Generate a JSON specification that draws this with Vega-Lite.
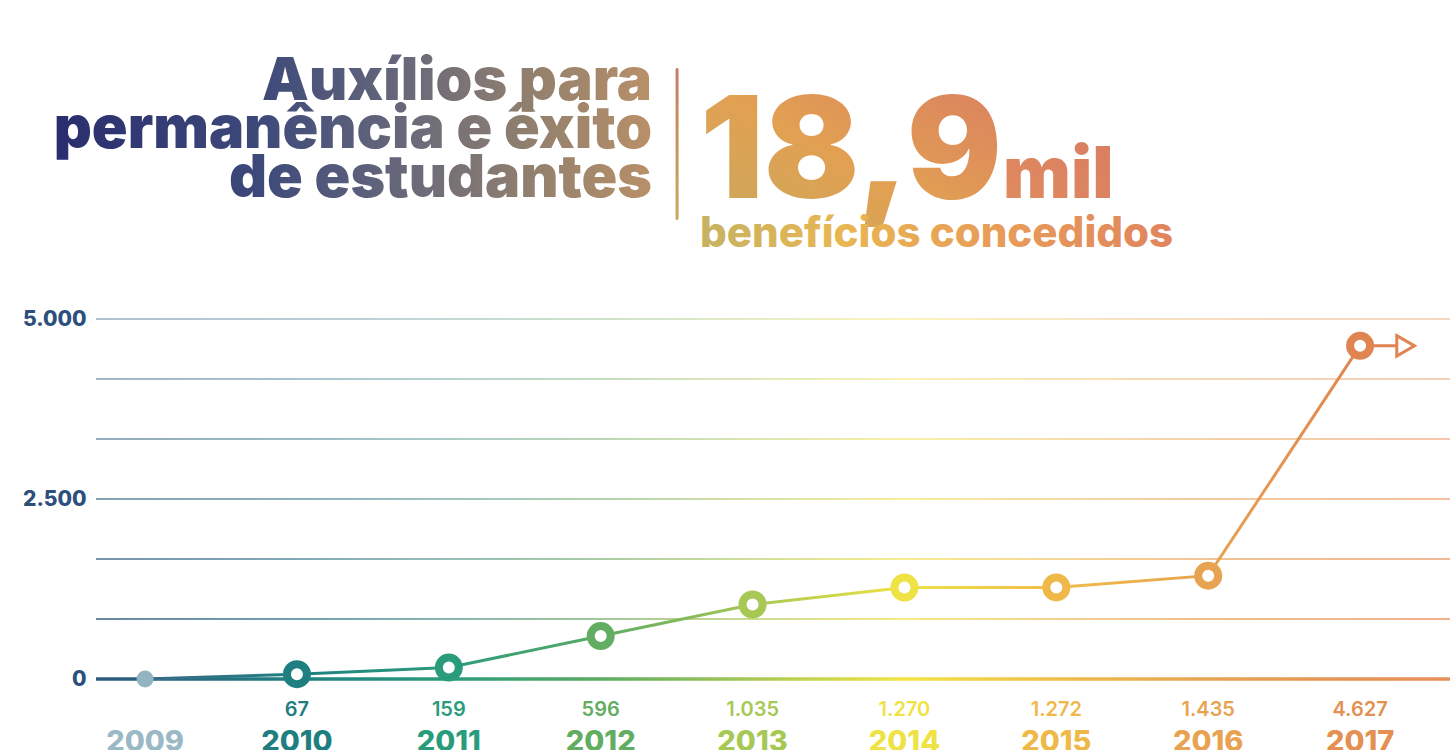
{
  "$schema": "https://vega.github.io/schema/vega-lite/v6.json",
  "width": 1354,
  "height": 360,
  "autosize": {"type": "none"},
  "padding": {"left": 96, "top": 319, "right": 0, "bottom": 71},
  "background": "white",
  "config": {
    "view": {"stroke": null},
    "font": "Inter",
    "scale": {"continuousPadding": 0},
    "locale": {"number": {"decimal": ",", "thousands": ".", "grouping": [3], "currency": ["R$", ""]}}
  },
  "datasets": {
    "years": [
      {"year": 2009, "value": 0},
      {"year": 2010, "value": 67},
      {"year": 2011, "value": 159},
      {"year": 2012, "value": 596},
      {"year": 2013, "value": 1035},
      {"year": 2014, "value": 1270},
      {"year": 2015, "value": 1272},
      {"year": 2016, "value": 1435},
      {"year": 2017, "value": 4627}
    ],
    "grid": [{"v": 833.33}, {"v": 1666.67}, {"v": 2500}, {"v": 3333.33}, {"v": 4166.67}, {"v": 5000}],
    "one": [{}]
  },
  "layer": [
    {
      "data": {"name": "grid"},
      "mark": {"type": "bar", "height": 1.5, "color": {"gradient": "linear", "x1": 0, "y1": 0, "x2": 1, "y2": 0, "stops": [
        {"offset": 0, "color": "#2c5a7c"}, {"offset": 0.148, "color": "#3a7890"}, {"offset": 0.26, "color": "#5a9a90"},
        {"offset": 0.372, "color": "#7ab072"}, {"offset": 0.485, "color": "#b8cc66"}, {"offset": 0.597, "color": "#f4e250"},
        {"offset": 0.709, "color": "#f0c060"}, {"offset": 0.821, "color": "#e8a45a"}, {"offset": 1, "color": "#e8925e"}]}},
      "encoding": {
        "x": {"datum": 2008.677, "type": "quantitative", "scale": {"domain": [2008.677, 2017.592], "nice": false, "zero": false, "padding": 0}, "axis": null},
        "x2": {"datum": 2017.592},
        "y": {"field": "v", "type": "quantitative", "scale": {"domain": [0, 5000], "nice": false, "zero": true, "padding": 0},
          "axis": {"values": [0, 2500, 5000], "domain": false, "ticks": false, "grid": false, "title": null, "format": ",.0f",
            "labelFontSize": 21, "labelFontWeight": 800, "labelColor": "#2c4f7c", "labelPadding": 10, "labelFont": "Inter"}},
        "opacity": {"field": "v", "type": "quantitative", "scale": {"domain": [833, 5000], "range": [0.95, 0.5]}, "legend": null}
      }
    },
    {
      "data": {"name": "one"},
      "mark": {"type": "bar", "height": 3.5, "color": {"gradient": "linear", "x1": 0, "y1": 0, "x2": 1, "y2": 0, "stops": [
        {"offset": 0, "color": "#2c5a7c"}, {"offset": 0.036, "color": "#2a6280"}, {"offset": 0.148, "color": "#1f8080"}, {"offset": 0.26, "color": "#2a9c7c"},
        {"offset": 0.372, "color": "#5aab62"}, {"offset": 0.485, "color": "#a8c855"}, {"offset": 0.597, "color": "#f2e444"},
        {"offset": 0.709, "color": "#efbd4a"}, {"offset": 0.821, "color": "#e8a352"}, {"offset": 0.934, "color": "#e39254"}, {"offset": 1, "color": "#e88e58"}]}},
      "encoding": {
        "x": {"datum": 2008.677, "type": "quantitative"},
        "x2": {"datum": 2017.592},
        "y": {"datum": 0, "type": "quantitative"}
      }
    },
    {
      "data": {"name": "years"},
      "mark": {"type": "line", "strokeWidth": 3, "stroke": {"gradient": "linear", "x1": 0, "y1": 0, "x2": 1, "y2": 0, "stops": [
        {"offset": 0, "color": "#3a6a88"}, {"offset": 0.125, "color": "#1f8080"}, {"offset": 0.25, "color": "#2a9c7c"},
        {"offset": 0.375, "color": "#5aab62"}, {"offset": 0.5, "color": "#a8c855"}, {"offset": 0.625, "color": "#efe244"},
        {"offset": 0.75, "color": "#efbd4a"}, {"offset": 0.875, "color": "#e8a352"}, {"offset": 1, "color": "#e08552"}]}},
      "encoding": {
        "x": {"field": "year", "type": "quantitative"},
        "y": {"field": "value", "type": "quantitative"}
      }
    },
    {
      "data": {"name": "one"},
      "mark": {"type": "rule", "color": "#e08552", "strokeWidth": 3},
      "encoding": {
        "x": {"datum": 2017, "type": "quantitative"},
        "x2": {"datum": 2017.24},
        "y": {"datum": 4627, "type": "quantitative"}
      }
    },
    {
      "data": {"name": "one"},
      "mark": {"type": "point", "shape": "triangle-right", "size": 420, "fill": "#ffffff", "stroke": "#e08552", "strokeWidth": 3, "opacity": 1, "fillOpacity": 1},
      "encoding": {
        "x": {"datum": 2017.30, "type": "quantitative"},
        "y": {"datum": 4627, "type": "quantitative"}
      }
    },
    {
      "data": {"name": "years"},
      "transform": [{"filter": "datum.year > 2009"}],
      "mark": {"type": "point", "shape": "circle", "size": 400, "fill": "#ffffff", "fillOpacity": 1, "strokeWidth": 8, "opacity": 1},
      "encoding": {
        "x": {"field": "year", "type": "quantitative"},
        "y": {"field": "value", "type": "quantitative"},
        "stroke": {"field": "year", "type": "ordinal", "legend": null,
          "scale": {"domain": [2009, 2010, 2011, 2012, 2013, 2014, 2015, 2016, 2017],
            "range": ["#93b5c2", "#1f7f80", "#2a9c7c", "#62ad62", "#a8c855", "#efe244", "#efb94a", "#e8a352", "#e08552"]}}
      }
    },
    {
      "data": {"name": "years"},
      "transform": [{"filter": "datum.year == 2009"}],
      "mark": {"type": "circle", "size": 290, "color": "#93b5c2", "opacity": 1},
      "encoding": {
        "x": {"field": "year", "type": "quantitative"},
        "y": {"field": "value", "type": "quantitative"}
      }
    },
    {
      "data": {"name": "years"},
      "transform": [{"filter": "datum.year > 2009"}],
      "mark": {"type": "text", "fontSize": 20, "fontWeight": 600, "baseline": "alphabetic", "align": "center", "dy": 37, "font": "Inter"},
      "encoding": {
        "x": {"field": "year", "type": "quantitative"},
        "y": {"datum": 0, "type": "quantitative"},
        "text": {"field": "value", "type": "quantitative", "format": ","},
        "color": {"field": "year", "type": "ordinal", "legend": null,
          "scale": {"domain": [2009, 2010, 2011, 2012, 2013, 2014, 2015, 2016, 2017],
            "range": ["#9ab9c5", "#1f7f80", "#2a9c7c", "#62ad62", "#a8c855", "#efe244", "#efb94a", "#e8a352", "#e39052"]}}
      }
    },
    {
      "data": {"name": "years"},
      "mark": {"type": "text", "fontSize": 29, "fontWeight": 800, "baseline": "alphabetic", "align": "center", "dy": 72, "font": "Inter"},
      "encoding": {
        "x": {"field": "year", "type": "quantitative"},
        "y": {"datum": 0, "type": "quantitative"},
        "text": {"field": "year", "type": "ordinal"},
        "color": {"field": "year", "type": "ordinal", "legend": null}
      }
    },
    {
      "data": {"name": "one"},
      "mark": {"type": "text", "text": ["Auxílios para", "permanência e êxito", "de estudantes"], "align": "right", "baseline": "alphabetic",
        "fontSize": 59, "fontWeight": 900, "lineHeight": 48.5, "font": "Inter",
        "color": {"gradient": "linear", "x1": 0, "y1": 0, "x2": 1, "y2": 0, "stops": [
          {"offset": 0, "color": "#2a2d6e"}, {"offset": 0.35, "color": "#3e4a7a"}, {"offset": 0.6, "color": "#6a6a7a"},
          {"offset": 0.8, "color": "#92806e"}, {"offset": 1, "color": "#b89068"}]}},
      "encoding": {
        "x": {"datum": 2012.338, "type": "quantitative"},
        "y": {"datum": 8041.7, "type": "quantitative"}
      }
    },
    {
      "data": {"name": "one"},
      "mark": {"type": "bar", "width": 3, "cornerRadius": 1.5, "color": {"gradient": "linear", "x1": 0, "y1": 0, "x2": 0, "y2": 1, "stops": [
        {"offset": 0, "color": "#c47e62"}, {"offset": 1, "color": "#c8aa5e"}]}},
      "encoding": {
        "x": {"datum": 2012.503, "type": "quantitative"},
        "y": {"datum": 8486, "type": "quantitative"},
        "y2": {"datum": 6375}
      }
    },
    {
      "data": {"name": "one"},
      "mark": {"type": "text", "text": "18,9", "align": "left", "baseline": "alphabetic", "fontSize": 141, "fontWeight": 900, "font": "Inter",
        "color": {"gradient": "linear", "x1": 0, "y1": 1, "x2": 1, "y2": 0, "stops": [
          {"offset": 0, "color": "#c8aa5c"}, {"offset": 0.45, "color": "#e2a052"}, {"offset": 1, "color": "#d97c62"}]}},
      "encoding": {
        "x": {"datum": 2012.654, "type": "quantitative"},
        "y": {"datum": 6680.6, "type": "quantitative"}
      }
    },
    {
      "data": {"name": "one"},
      "mark": {"type": "text", "text": "mil", "align": "left", "baseline": "alphabetic", "fontSize": 72, "fontWeight": 900, "font": "Inter",
        "color": {"gradient": "linear", "x1": 0, "y1": 1, "x2": 1, "y2": 0, "stops": [
          {"offset": 0, "color": "#e08c5e"}, {"offset": 1, "color": "#d97c62"}]}},
      "encoding": {
        "x": {"datum": 2014.649, "type": "quantitative"},
        "y": {"datum": 6680.6, "type": "quantitative"}
      }
    },
    {
      "data": {"name": "one"},
      "mark": {"type": "text", "text": "benefícios concedidos", "align": "left", "baseline": "alphabetic", "fontSize": 42, "fontWeight": 800, "font": "Inter",
        "color": {"gradient": "linear", "x1": 0, "y1": 0, "x2": 1, "y2": 0, "stops": [
          {"offset": 0, "color": "#c6b262"}, {"offset": 0.3, "color": "#e8b652"}, {"offset": 0.6, "color": "#e89e58"}, {"offset": 1, "color": "#e0845e"}]}},
      "encoding": {
        "x": {"datum": 2012.654, "type": "quantitative"},
        "y": {"datum": 6000, "type": "quantitative"}
      }
    }
  ]
}
